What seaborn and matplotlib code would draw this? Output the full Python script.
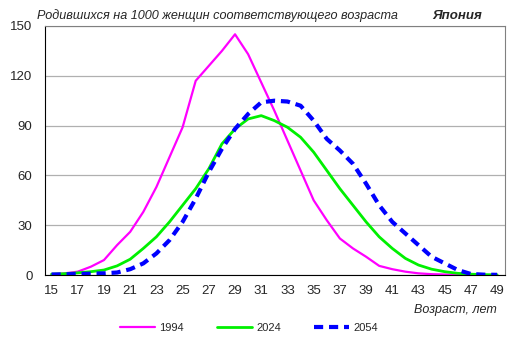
import numpy as np
import pandas as pd
import matplotlib
matplotlib.use('Agg')
import matplotlib.pyplot as plt
import seaborn as sns

sns.set_style('white')
plt.rcParams['font.family'] = ['Liberation Sans', 'DejaVu Sans']

# возраст матери, лет
ages = list(range(15, 50))

# рождаемость на 1000 женщин
rate_1994 = [0.3, 1, 2, 5, 9, 18, 26, 38, 53, 71, 89, 117, 126, 135, 145,
             133, 116, 99, 81, 63, 45, 33, 22, 16, 11, 5.5, 3.5, 2, 1, 0.5,
             0.3, 0.1, 0.1, 0, 0]
rate_2024 = [0.5, 0.8, 1.3, 2, 3, 5.5, 9.5, 16, 23, 32, 42, 52, 64, 79, 88,
             94, 96, 93, 89, 83, 74, 63, 52, 42, 32, 23, 16, 10, 6, 3.5,
             2, 1, 0.5, 0.2, 0.1]
rate_2054 = [0.3, 0.4, 0.6, 0.8, 1, 1.5, 3.5, 7, 13, 21, 32, 46, 62, 76, 88,
             97, 104, 105, 104.5, 102, 93, 82, 75, 67, 55, 42, 32, 25, 18, 11,
             7, 3, 0.6, 0.2, 0.1]

series_names = ['1994', '2024', '2054']
colors = ['#FF00FF', '#00F000', '#0000FF']
widths = [1.6, 2.0, 3.0]
styles = ['-', '-', (0, (2.2, 1.4))]

df = pd.DataFrame({'age': ages, '1994': rate_1994, '2024': rate_2024, '2054': rate_2054})
long = df.melt(id_vars='age', var_name='year', value_name='rate')

fig = plt.figure(figsize=(5.19, 3.52), dpi=100)
ax = fig.add_axes([45 / 519, 77 / 352, 460 / 519, 249 / 352])

for name, c, w, ls in zip(series_names, colors, widths, styles):
    sub = long[long['year'] == name]
    sns.lineplot(data=sub, x='age', y='rate', ax=ax, color=c, linewidth=w,
                 linestyle=ls, label=name, legend=False)

ax.set_xlim(14.5, 49.6)
ax.set_ylim(0, 150)
ax.set_xticks(range(15, 50, 2))
ax.set_yticks(range(0, 151, 30))
ax.tick_params(axis='x', length=0, labelsize=9.5, pad=7)
ax.tick_params(axis='y', length=0, labelsize=9.5, pad=9)
ax.yaxis.grid(True, color='#b0b0b0', linewidth=0.9)
ax.xaxis.grid(False)
ax.set_xlabel('')
ax.set_ylabel('')
for side in ['top', 'right']:
    ax.spines[side].set_color('#808080')
for side in ['left', 'bottom']:
    ax.spines[side].set_color('black')

fig.text(37 / 519, 1 - 16 / 352, 'Родившихся на 1000 женщин соответствующего возраста',
         fontsize=9.1, style='italic', va='center', ha='left')
fig.text(482 / 519, 1 - 16 / 352, 'Япония', fontsize=9.5, style='italic',
         fontweight='bold', va='center', ha='right')
fig.text(497 / 519, 1 - 310 / 352, 'Возраст, лет', fontsize=9, style='italic',
         va='center', ha='right')

handles, labels = ax.get_legend_handles_labels()
fig.legend(handles, labels, loc='center', bbox_to_anchor=(249 / 519, 1 - 328 / 352),
           ncol=3, frameon=False, fontsize=8, handlelength=3.1, columnspacing=3.0,
           handletextpad=0.4)

fig.savefig('out.png', dpi=100)
